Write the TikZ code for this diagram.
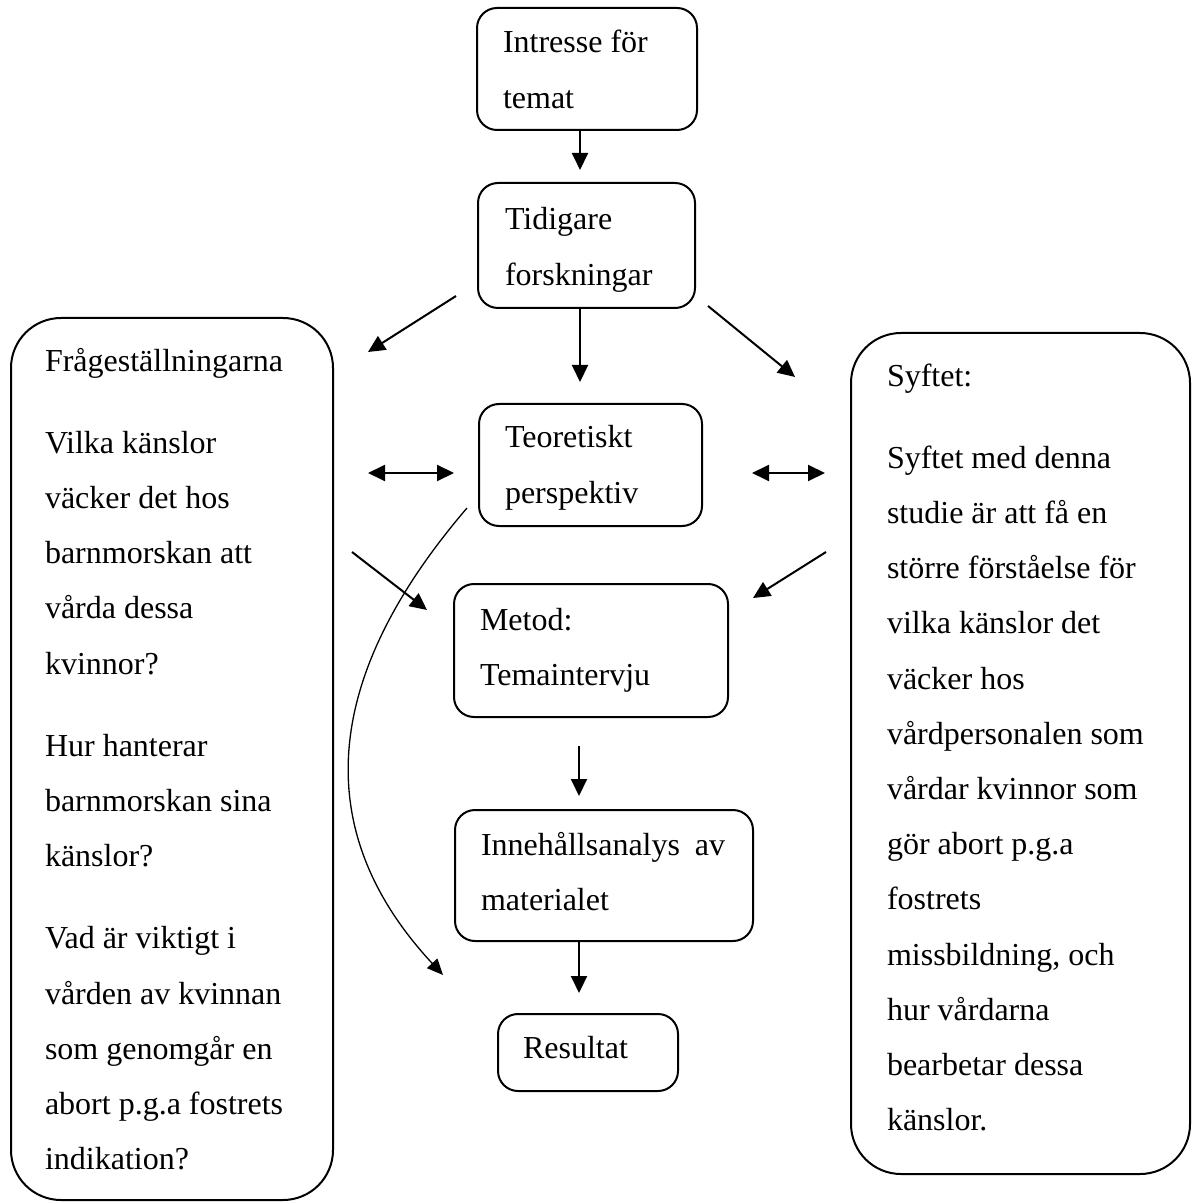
\documentclass[tikz,border=0pt]{standalone}
\usepackage{fontspec}
\setmainfont{Liberation Serif}
\usetikzlibrary{arrows.meta}
\newcommand{\boxlines}[1]{\begin{tabular}[t]{@{}l@{}}#1\end{tabular}}
\begin{document}
\begin{tikzpicture}[x=0.5pt,y=-0.5pt,
  box/.style={draw,line width=1pt,rounded corners=10pt,inner sep=0pt,outer sep=0pt},
  bigbox/.style={draw,line width=1pt,rounded corners=25pt,inner sep=0pt,outer sep=0pt},
  txt/.style={anchor=base west,inner sep=0pt,outer sep=0pt,font=\fontsize{16}{27.6}\selectfont},
  arr/.style={line width=1pt,-{Triangle[length=8.5pt,width=8pt]}},
  darr/.style={line width=1pt,{Triangle[length=8.5pt,width=8pt]}-{Triangle[length=8.5pt,width=8pt]}},
  curvearr/.style={line width=0.65pt,-{Triangle[length=8pt,width=7pt]}}]
\useasboundingbox (0,0) rectangle (1192,1202);

% boxes
\node[box,minimum width=110pt,minimum height=61pt] (b1) at (587,69) {};
\node[box,minimum width=108.5pt,minimum height=62.5pt] (b2) at (586.5,245.5) {};
\node[box,minimum width=111.5pt,minimum height=61pt] (b3) at (590.5,465) {};
\node[box,minimum width=137pt,minimum height=66.5pt] (b4) at (591,650.5) {};
\node[box,minimum width=149pt,minimum height=65.5pt] (b5) at (604,875.5) {};
\node[box,minimum width=90pt,minimum height=38.5pt] (b6) at (588,1052.5) {};
\node[bigbox,minimum width=161pt,minimum height=441pt] (bl) at (172,759) {};
\node[bigbox,minimum width=169.5pt,minimum height=420.5pt] (br) at (1020.5,753.5) {};

% texts
\node[txt] (t1) at (503,53) {\boxlines{Intresse för\\ temat}};
\node[txt] (t2) at (505,230) {\boxlines{Tidigare\\ forskningar}};
\node[txt] (t3) at (505,448) {\boxlines{Teoretiskt\\ perspektiv}};
\node[txt] (t4) at (480,630) {\boxlines{Metod:\\ Temaintervju}};
\node[txt] (t5) at (481,855) {\boxlines{\hbox to 122pt{Innehållsanalys\hfill av}\\ materialet}};
\node[txt] (t6) at (523,1058) {Resultat};
\node[txt] (tl) at (45,372) {\boxlines{Frågeställningarna\\[13pt]
  Vilka känslor\\ väcker det hos\\ barnmorskan att\\ vårda dessa\\ kvinnor?\\[13.5pt]
  Hur hanterar\\ barnmorskan sina\\ känslor?\\[13.5pt]
  Vad är viktigt i\\ vården av kvinnan\\ som genomgår en\\ abort p.g.a fostrets\\ indikation?}};
\node[txt] (tr) at (887,387) {\boxlines{Syftet:\\[13pt]
  Syftet med denna\\ studie är att få en\\ större förståelse för\\ vilka känslor det\\ väcker hos\\
  vårdpersonalen som\\ vårdar kvinnor som\\ gör abort p.g.a\\ fostrets\\ missbildning, och\\
  hur vårdarna\\ bearbetar dessa\\ känslor.}};

% free arrow ends
\coordinate (d1s) at (456,296); \coordinate (d1e) at (368,352);
\coordinate (d2s) at (708,306); \coordinate (d2e) at (795,377);
\coordinate (h1s) at (368,473); \coordinate (h1e) at (454,473);
\coordinate (h2s) at (752,473); \coordinate (h2e) at (825,473);
\coordinate (d3s) at (352,552); \coordinate (d3e) at (427,610);
\coordinate (d4s) at (826,552); \coordinate (d4e) at (753,598);
\coordinate (cs) at (467,508); \coordinate (ce) at (443,975);

% vertical arrows
\draw[arr,shorten >=6.5pt] ([xshift=-3.5pt]b1.south) -- ([xshift=-3.25pt]b2.north);
\draw[arr,shorten >=11pt] ([xshift=-3.25pt]b2.south) -- ([xshift=-5.25pt]b3.north);
\draw[arr,shorten <=14.5pt,shorten >=7pt] ([xshift=-6pt]b4.south) -- ([xshift=-12.5pt]b5.north);
\draw[arr,shorten >=10.5pt] ([xshift=-12.5pt]b5.south) -- ([xshift=-4.5pt]b6.north);

% other arrows
\draw[arr] (d1s) -- (d1e);
\draw[arr] (d2s) -- (d2e);
\draw[darr] (h1s) -- (h1e);
\draw[darr] (h2s) -- (h2e);
\draw[arr] (d3s) -- (d3e);
\draw[arr] (d4s) -- (d4e);
\draw[curvearr] (cs) .. controls (317,683) and (313,835) .. (ce);
\end{tikzpicture}
\end{document}
